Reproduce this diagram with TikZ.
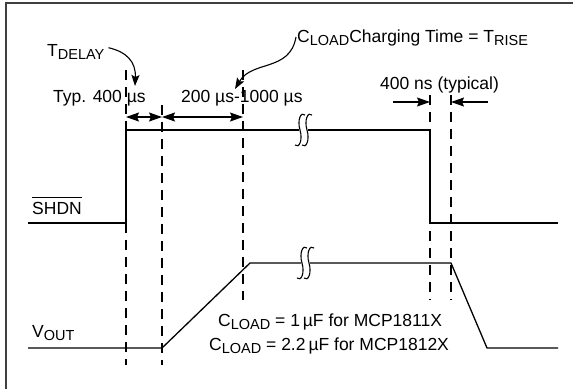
\documentclass[tikz,border=0pt]{standalone}
\usepackage{fontspec}
\setmainfont{Liberation Sans}
\usetikzlibrary{arrows.meta}
\newcommand{\lowtxt}[1]{\raisebox{-3.5pt}{\fontsize{14.5}{14.5}\selectfont #1}}

\begin{document}
\begin{tikzpicture}[x=1pt,y=-1pt,
  sig/.style={line width=1.3pt},
  guide/.style={line width=1.2pt,dash pattern=on 10pt off 7pt},
  dim/.style={line width=1.2pt,{Stealth[length=13pt,width=9pt,inset=2pt]}-{Stealth[length=13pt,width=9pt,inset=2pt]}},
  pointer/.style={line width=1.2pt,-{Stealth[length=13pt,width=9pt,inset=2pt]}},
  callout/.style={line width=1.1pt,-{Stealth[length=11pt,width=8pt,inset=2pt]}},
  lbl/.style={inner sep=0pt,anchor=base west,font=\fontsize{17.5}{20}\selectfont}]
  \useasboundingbox (0,0) rectangle (575,389);
  % Rahmen (nur links und oben)
  \draw[line width=1.5pt,black!75] (6,389) -- (6,3) -- (573,3);
  % SHDN-Signal
  \coordinate (s0) at (28,223);
  \coordinate (s1) at (126,223);
  \coordinate (s2) at (126,130);
  \coordinate (s2b) at (299,130);
  \coordinate (s3a) at (308,130);
  \coordinate (s3) at (430,130);
  \coordinate (s4) at (430,223);
  \coordinate (s5) at (558,223);
  \draw[sig] (s0) -- (s1) -- (s2) -- (s2b);
  \draw[sig] (s3a) -- (s3) -- (s4) -- (s5);
  % VOUT-Signal
  \coordinate (v0) at (28,348);
  \coordinate (v1) at (162,348);
  \coordinate (v2) at (250,263);
  \coordinate (v2b) at (301,263);
  \coordinate (v3a) at (310,263);
  \coordinate (v3) at (451,263);
  \coordinate (v4) at (487,348);
  \coordinate (v5) at (558,348);
  \draw[sig] (v0) -- (v1) -- (v2) -- (v2b);
  \draw[sig] (v3a) -- (v3) -- (v4) -- (v5);
  % Unterbrechungen
  \foreach \xx/\yy in {300/130,307/130,302/263,309/263}
    \draw[line width=1.1pt] (\xx+5,\yy-15) .. controls (\xx+1,\yy-19) and (\xx-3,\yy-10) .. (\xx,\yy)
      .. controls (\xx+3,\yy+10) and (\xx-1,\yy+19) .. (\xx-5,\yy+15);
  % Hilfslinien
  \draw[guide] (126,70) -- (126,365);
  \draw[guide] (162,105) -- (162,365);
  \draw[guide] (243,70) -- (243,300);
  \draw[guide] (430,95) -- (430,300);
  \draw[guide] (451,95) -- (451,300);
  % Zeitmarken
  \coordinate (d0) at (126,117);
  \coordinate (d1) at (162,117);
  \coordinate (d2) at (243,117);
  \draw[dim] (d0) -- (d1);
  \draw[dim] (d1) -- (d2);
  \coordinate (n0) at (393,102);
  \coordinate (n1) at (430,102);
  \coordinate (n2) at (451,102);
  \coordinate (n3) at (488,102);
  \draw[pointer] (n0) -- (n1);
  \draw[pointer] (n3) -- (n2);
  % Beschriftung
  \node[lbl] (tdl) at (47,56) {T\lowtxt{DELAY}};
  \node[lbl] (typ) at (53,102) {Typ. 400 µs};
  \node[lbl] (rng) at (181,102) {200 µs-1000 µs};
  \node[lbl] (chg) at (297,42) {C\lowtxt{LOAD}Charging Time = T\lowtxt{RISE}};
  \node[lbl] (ns) at (380,89) {400 ns (typical)};
  \node[lbl] (shdn) at (32,214) {$\overline{\mbox{\rule{0pt}{15pt}SHDN}}$};
  \node[lbl] (vout) at (32,337) {V\lowtxt{OUT}};
  \node[lbl] (cl1) at (218,326) {C\lowtxt{LOAD} = 1\,µF for MCP1811X};
  \node[lbl] (cl2) at (209,350) {C\lowtxt{LOAD} = 2.2\,µF for MCP1812X};
  % Hinweispfeile
  \coordinate (tdlTip) at (135,86);
  \coordinate (chgTip) at (235,89);
  \draw[callout] ([xshift=4pt,yshift=4pt]tdl.east) .. controls (127,52) and (136,62) .. (tdlTip);
  \draw[callout] (296,37) .. controls (290,72) and (252,60) .. (chgTip);
\end{tikzpicture}
\end{document}
